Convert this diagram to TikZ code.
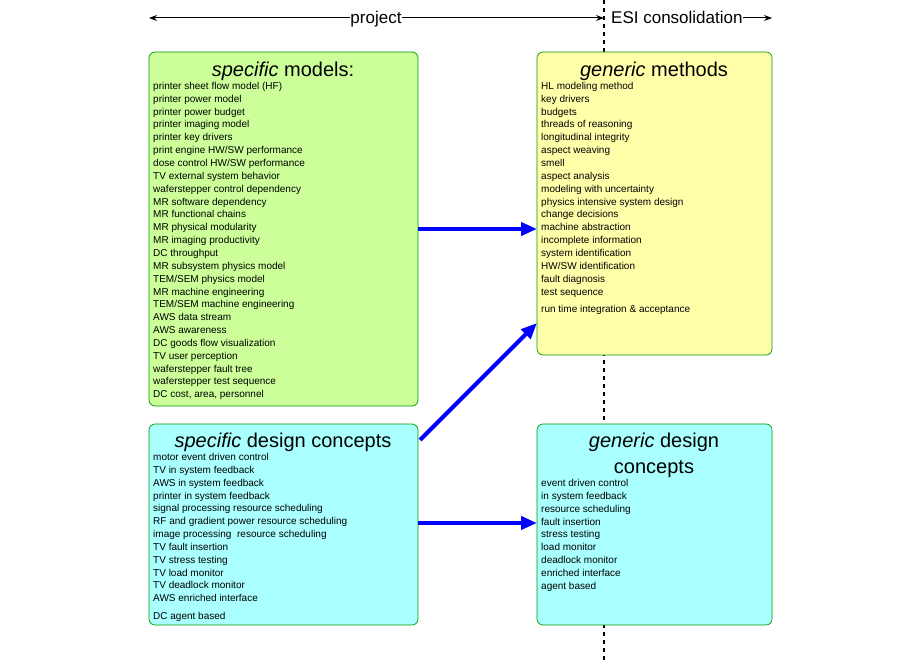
\documentclass[tikz,border=0pt]{standalone}
\usepackage{fontspec}
\setmainfont{Liberation Sans}
\usetikzlibrary{arrows.meta}
\definecolor{gr}{HTML}{CCFF99}\definecolor{ye}{HTML}{FFFFAA}\definecolor{cy}{HTML}{AAFFFF}\definecolor{bd}{HTML}{009900}
\begin{document}
\begin{tikzpicture}[x=1pt,y=-1pt,
box/.style={draw=bd,rounded corners=6pt,line width=0.7pt},
lst/.style={anchor=north west,align=left,inner sep=0pt,font=\fontsize{10}{12.85}\selectfont},
ttl/.style={anchor=base,inner sep=0pt,font=\fontsize{20}{26}\selectfont},
big/.style={draw=blue,line width=4pt,-{Triangle[length=16pt,width=13pt]}},
top/.style={line width=1pt,-{Stealth[length=8pt,width=6pt]}}]
\useasboundingbox (0,0) rectangle (920,660);
\draw[line width=2pt,dash pattern=on 4pt off 4pt] (604,0) -- (604,660);
\fill[white] (0,0) rectangle (0,0);
\draw[box,fill=gr] (149,52) rectangle (418,406);
\draw[box,fill=ye] (537,52) rectangle (772,355);
\draw[box,fill=cy] (149,424) rectangle (418,625);
\draw[box,fill=cy] (537,424) rectangle (772,625);
\node[ttl] (t1) at (283,77) {\textit{specific} models:};
\node[ttl] (t2) at (654,77) {\textit{generic} methods};
\node[ttl] (t3) at (283,447) {\textit{specific} design concepts};
\node[ttl] (t4) at (654,447) {\textit{generic} design};
\node[ttl] (t4b) at (654,473) {concepts};
\node[lst] (l1) at (153,82) {printer sheet flow model (HF)\\printer power model\\printer power budget\\printer imaging model\\printer key drivers\\print engine HW/SW performance\\dose control HW/SW performance\\TV external system behavior\\waferstepper control dependency\\MR software dependency\\MR functional chains\\MR physical modularity\\MR imaging productivity\\DC throughput\\MR subsystem physics model\\TEM/SEM physics model\\MR machine engineering\\TEM/SEM machine engineering\\AWS data stream\\AWS awareness\\DC goods flow visualization\\TV user perception\\waferstepper fault tree\\waferstepper test sequence\\DC cost, area, personnel};
\node[lst] (l2) at (541,82) {HL modeling method\\key drivers\\budgets\\threads of reasoning\\longitudinal integrity\\aspect weaving\\smell\\aspect analysis\\modeling with uncertainty\\physics intensive system design\\change decisions\\machine abstraction\\incomplete information\\system identification\\HW/SW identification\\fault diagnosis\\test sequence};
\node[lst] (l2b) at (541,305) {run time integration \& acceptance};
\node[lst] (l3) at (153,453) {motor event driven control\\TV in system feedback\\AWS in system feedback\\printer in system feedback\\signal processing resource scheduling\\RF and gradient power resource scheduling\\image processing\ \ resource scheduling\\TV fault insertion\\TV stress testing\\TV load monitor\\TV deadlock monitor\\AWS enriched interface};
\node[lst] (l3b) at (153,612) {DC agent based};
\node[lst] (l4) at (541,479) {event driven control\\in system feedback\\resource scheduling\\fault insertion\\stress testing\\load monitor\\deadlock monitor\\enriched interface\\agent based};
\coordinate (a1) at (418,229); \coordinate (b1) at (537,229);
\coordinate (a2) at (420,440); \coordinate (b2) at (537,323);
\coordinate (a3) at (418,523); \coordinate (b3) at (537,523);
\draw[big] (a1) -- (b1); \draw[big] (a2) -- (b2); \draw[big] (a3) -- (b3);
\node[inner sep=0pt,anchor=base,font=\fontsize{17}{20}\selectfont] (pj) at (376,24) {project};
\node[inner sep=0pt,anchor=base west,font=\fontsize{17}{20}\selectfont] (esi) at (611,24) {ESI consolidation};
\coordinate (p0) at (149,18); \coordinate (p1) at (604,18); \coordinate (e1) at (772,18);
\draw[top] (pj.west|-p0) -- (p0);
\draw[top] (pj.east|-p0) -- (p1);
\draw[top] (esi.east|-p0) -- (e1);
\end{tikzpicture}
\end{document}
